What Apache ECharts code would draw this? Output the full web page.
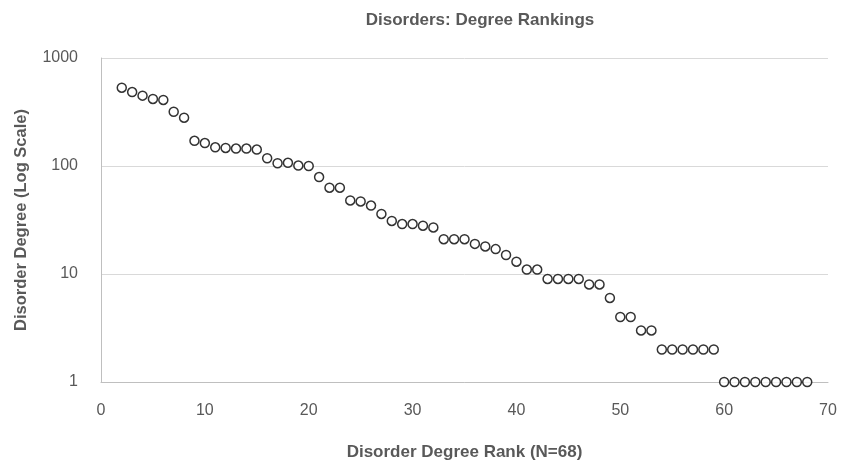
<!DOCTYPE html>
<html>
<head>
<meta charset="utf-8">
<script src="https://cdn.jsdelivr.net/npm/echarts@6/dist/echarts.min.js"></script>
<style>html,body{margin:0;padding:0;background:#fff}#c{width:845px;height:466px}</style>
</head>
<body>
<div id="c"></div>
<script>
const ranks = [2,3,4,5,6,7,8,9,10,11,12,13,14,15,16,17,18,19,20,21,22,23,24,25,26,27,28,29,30,31,32,33,34,35,36,37,38,39,40,41,42,43,44,45,46,47,48,49,50,51,52,53,54,55,56,57,58,59,60,61,62,63,64,65,66,67,68];
const degrees = [531,484,448,418,409,318,280,171,163,149,147,145,145,142,118,106,107,101,100,79,63,63,48,47,43,36,31,29,29,28,27,21,21,21,19,18,17,15,13,11,11,9,9,9,9,8,8,6,4,4,3,3,2,2,2,2,2,2,1,1,1,1,1,1,1,1,1];
const xTicks = [0,10,20,30,40,50,60,70];
const yTicks = [1,10,100,1000];

const chart = echarts.init(document.getElementById('c'), null, {renderer:'canvas'});
const font = 'Liberation Sans, Arial, sans-serif';
chart.setOption({
  animation:false,
  title:{text:'Disorders: Degree Rankings', left:475, top:7, textAlign:'center',
    textStyle:{fontFamily:font, fontSize:17, fontWeight:'bold', color:'#595959'}},
  grid:{left:101, right:17, top:58, bottom:81, containLabel:false},
  xAxis:{type:'value', min:xTicks[0], max:xTicks[xTicks.length-1], interval:10,
    name:'Disorder Degree Rank (N=68)', nameLocation:'middle', nameGap:62,
    nameTextStyle:{fontFamily:font, fontSize:17, fontWeight:'bold', color:'#595959'},
    axisLine:{show:true, lineStyle:{color:'#bfbfbf', width:1}},
    axisTick:{show:false}, splitLine:{show:false},
    axisLabel:{fontFamily:font, fontSize:16, color:'#595959', margin:21}},
  yAxis:{type:'log', logBase:10, min:yTicks[0], max:yTicks[yTicks.length-1],
    name:'Disorder Degree (Log Scale)', nameLocation:'middle', nameGap:71,
    nameTextStyle:{fontFamily:font, fontSize:16.5, fontWeight:'bold', color:'#595959'},
    axisLine:{show:true, lineStyle:{color:'#bfbfbf', width:1}},
    axisTick:{show:false},
    splitLine:{show:true, lineStyle:{color:'#d9d9d9', width:1}},
    axisLabel:{fontFamily:font, fontSize:16, color:'#595959', margin:23,
      formatter: v => String(Math.round(v))}},
  series:[{type:'scatter', symbol:'circle', symbolSize:9,
    data: ranks.map((r,i)=>[r, degrees[i]]),
    itemStyle:{color:'#ffffff', borderColor:'#000000', borderWidth:1.5}}]
});
</script>
</body>
</html>
